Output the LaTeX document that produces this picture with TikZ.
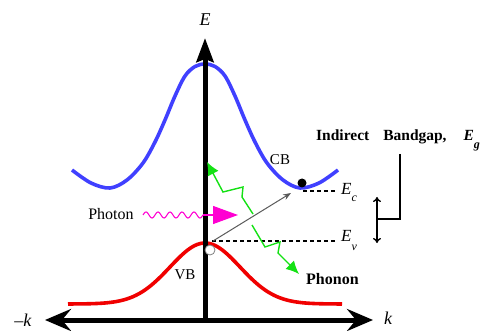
\documentclass[tikz,border=0pt]{standalone}
\usepackage{fontspec}
\setmainfont{Liberation Serif}
\usetikzlibrary{arrows.meta}
\definecolor{cbblue}{RGB}{64,64,255}
\definecolor{vbred}{RGB}{240,0,0}
\definecolor{phgreen}{RGB}{20,225,20}
\definecolor{phmag}{RGB}{255,0,210}
\begin{document}
\begin{tikzpicture}[x=1pt,y=-1pt,
  axis/.style={line width=5pt},
  band/.style={line width=3.6pt},
  levelline/.style={line width=1.2pt, dash pattern=on 4pt off 3pt},
  phononarrow/.style={draw=phgreen, line width=1.4pt, line join=miter, -{Latex[length=13pt,width=12pt]}},
  lbl/.style={inner sep=0pt, font=\fontsize{16}{18}\selectfont},
  thinline/.style={line width=1.4pt}]
\useasboundingbox (0,0) rectangle (487,331);

% bands
\draw[band, cbblue] plot[smooth, tension=0.55] coordinates {(72,170) (91,183) (110,188) (127,180) (143,163) (155,142) (165,120) (175,96) (185,76) (195,66.5) (205,64) (215,66.5) (225,76) (235,96) (245,120) (255,142) (267,163) (283,180) (300,188) (319,183) (338,170)};
\draw[band, vbred] plot[domain=68:342, samples=90] (\x, {304 - 61*exp(-(((\x-205)/10)^2)/24.5)});

% axes
\coordinate (O) at (205,320);
\coordinate (Etop) at (205,38);
\coordinate (kL) at (45,320);
\coordinate (kR) at (373,320);
\draw[axis, -{Stealth[length=24pt,width=17pt,inset=3pt]}] (O) -- (Etop);
\draw[axis, {Stealth[length=26pt,width=22pt,inset=9pt]}-{Stealth[length=26pt,width=22pt,inset=9pt]}] (kL) -- (kR);
\node[lbl, font=\fontsize{18}{20}\selectfont\itshape] (Elab) at (205,20) {E};
\node[lbl, font=\fontsize{18}{20}\selectfont] (mk) at (23,320) {\textendash\textit{k}};
\node[lbl, font=\fontsize{18}{20}\selectfont\itshape] (klab) at (388,318) {k};

% levels
\coordinate (Ecs) at (303,191);
\coordinate (Ece) at (336,191);
\coordinate (Evs) at (212,241);
\coordinate (Eve) at (336,241);
\draw[levelline] (Ecs) -- (Ece);
\draw[levelline] (Evs) -- (Eve);
\node[lbl, anchor=west, font=\fontsize{17}{18}\selectfont\itshape] (Ec) at (341,192) {E\raisebox{-7pt}{\fontsize{12}{12}\selectfont c}};
\node[lbl, anchor=west, font=\fontsize{17}{18}\selectfont\itshape] (Ev) at (341,240) {E\raisebox{-9pt}{\fontsize{12}{12}\selectfont v}};

% transition
\coordinate (tr1) at (213,241);
\coordinate (tr2) at (291,193);
\draw[gray!70!black, line width=1pt, -{Stealth[length=8pt,width=6pt]}] (tr1) -- (tr2);
\node[circle, fill=black, inner sep=0pt, minimum size=9pt] (electron) at (302,183) {};
\node[circle, draw=gray, fill=white, line width=0.8pt, inner sep=0pt, minimum size=10pt] (hole) at (210,250) {};

% photon
\node[lbl] (photon) at (111,214) {Photon};
\draw[phmag, line width=1.1pt] plot[domain=143:203, samples=80] (\x, {215 - 3*sin(30*(\x-143))});
\coordinate (ph1) at (203,215);
\coordinate (ph2) at (238,215);
\draw[phmag, line width=1.1pt, -{Triangle[length=25pt,width=18pt]}] (ph1) -- (ph2);

% phonons
\coordinate (pu0) at (253,214);
\coordinate (pu1) at (242,197);
\coordinate (pu2) at (243,187);
\coordinate (pu3) at (223,192);
\coordinate (pu4) at (207,162);
\draw[phononarrow] (pu0) -- (pu1) -- (pu2) -- (pu3) -- (pu4);
\coordinate (pd0) at (252,225);
\coordinate (pd1) at (265,247);
\coordinate (pd2) at (280,242);
\coordinate (pd3) at (278,253);
\coordinate (pd4) at (299,274);
\draw[phononarrow] (pd0) -- (pd1) -- (pd2) -- (pd3) -- (pd4);
\node[lbl, anchor=west, font=\fontsize{16}{18}\selectfont\bfseries] (phonon) at (306,279) {Phonon};

% band labels
\node[lbl, font=\fontsize{15}{17}\selectfont] (CB) at (280,160) {CB};
\node[lbl, font=\fontsize{15}{17}\selectfont] (VB) at (185,275) {VB};

% bandgap annotation
\node[lbl, anchor=west, font=\fontsize{15.5}{18}\selectfont\bfseries] (gap) at (316,140) {Indirect\hspace{14pt}Bandgap,\hspace{17pt}\textit{E}\raisebox{-8pt}{\fontsize{12}{12}\selectfont\textit{g}}};
\coordinate (b1) at (400,154);
\coordinate (b3) at (377,219);
\draw[thinline] (b1) |- (b3);
\coordinate (g1) at (377,197);
\coordinate (g2) at (377,243);
\draw[thinline, {To[length=5pt,width=8pt]}-{To[length=5pt,width=8pt]}] (g1) -- (g2);
\end{tikzpicture}
\end{document}
